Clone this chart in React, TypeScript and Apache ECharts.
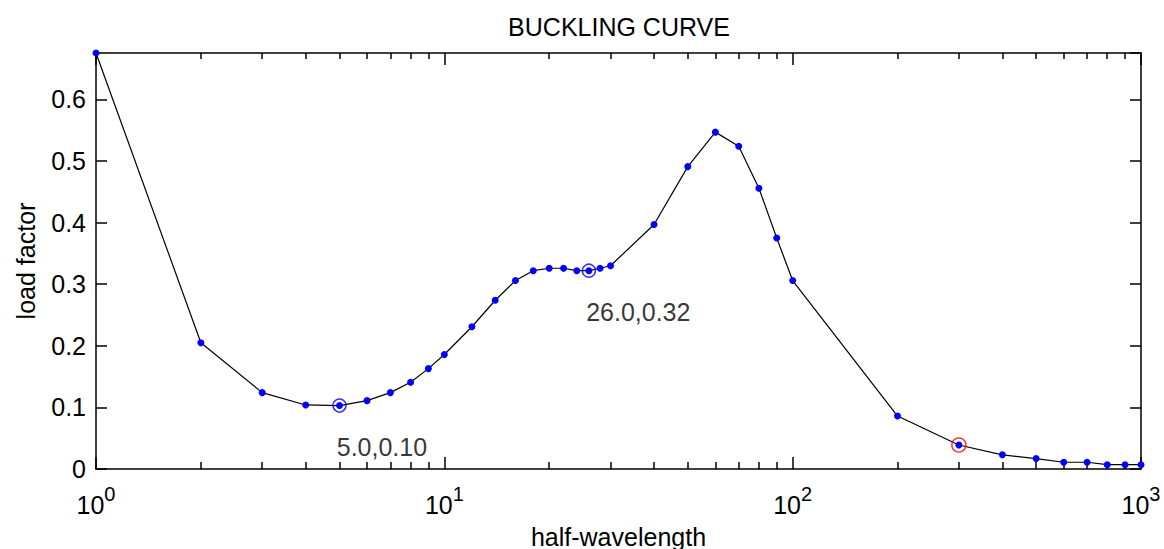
import React, { useEffect, useRef } from "react";
import * as echarts from "echarts";

const chartTitle = "BUCKLING CURVE";
const xAxisName = "half-wavelength";
const yAxisName = "load factor";

const halfWavelength = [
  1, 2, 3, 4, 5, 6, 7, 8, 9, 10, 12, 14, 16, 18, 20, 22, 24, 26, 28, 30, 40, 50,
  60, 70, 80, 90, 100, 200, 300, 400, 500, 600, 700, 800, 900, 1000,
];
const loadFactor = [
  0.6755, 0.205, 0.124, 0.104, 0.103, 0.111, 0.124, 0.141, 0.163, 0.186, 0.231,
  0.274, 0.306, 0.322, 0.326, 0.326, 0.322, 0.322, 0.326, 0.33, 0.397, 0.491,
  0.547, 0.524, 0.456, 0.375, 0.306, 0.086, 0.039, 0.023, 0.017, 0.011, 0.011,
  0.007, 0.007, 0.007,
];

// circled local minima (annotated)
const minimaX = [5, 26];
const minimaY = [0.103, 0.322];
// selected point (red circle)
const selectedX = [300];
const selectedY = [0.039];

const xMajorTicks = [1, 10, 100, 1000];
const xMinorTicks = [2, 3, 4, 5, 6, 7, 8, 9, 20, 30, 40, 50, 60, 70, 80, 90, 200, 300, 400, 500, 600, 700, 800, 900];
const yMin = 0;
const yMax = 0.6755;
const yStep = 0.1;

export default function App() {
  const ref = useRef<HTMLDivElement>(null);

  useEffect(() => {
    document.body.style.margin = "0";
    const chart = echarts.init(ref.current!, null, { renderer: "svg" });
    const font = "'Liberation Sans', Arial, sans-serif";
    const txt = "#000";
    const axisLine = { show: true, lineStyle: { color: "#000", width: 1.5 } };
    const tickStyle = { color: "#000", width: 1.5 };
    const xBase = { type: "log", logBase: 10, min: 1, max: 1000, splitLine: { show: false } };

    chart.setOption({
      animation: false,
      title: {
        text: chartTitle,
        left: 614,
        top: 9,
        textAlign: "center",
        textStyle: { fontFamily: font, fontSize: 25, fontWeight: "normal", color: txt },
      },
      grid: { left: 96, right: 23, top: 53, bottom: 80, containLabel: false, outerBoundsMode: "none" },
      xAxis: [
        {
          ...xBase,
          position: "bottom",
          name: xAxisName,
          nameLocation: "middle",
          nameGap: 55,
          nameTextStyle: { fontFamily: font, fontSize: 25, color: txt },
          axisLine,
          axisTick: { show: true, inside: true, length: 12, customValues: xMajorTicks, lineStyle: tickStyle },
          axisLabel: {
            customValues: xMajorTicks,
            margin: 15,
            formatter: (v: number) => `{b|10}{s|${Math.round(Math.log10(v))}}`,
            rich: {
              b: { fontFamily: font, fontSize: 25, color: txt },
              s: { fontFamily: font, fontSize: 20, color: txt, padding: [0, 0, 22, 0] },
            },
          },
        },
        {
          ...xBase,
          position: "bottom",
          axisLine: { show: false },
          axisTick: { show: true, inside: true, length: 7, customValues: xMinorTicks, lineStyle: tickStyle },
          axisLabel: { show: false },
        },
        {
          ...xBase,
          position: "top",
          axisLine,
          axisTick: { show: true, inside: true, length: 12, customValues: xMajorTicks, lineStyle: tickStyle },
          axisLabel: { show: false },
        },
        {
          ...xBase,
          position: "top",
          axisLine: { show: false },
          axisTick: { show: true, inside: true, length: 6, customValues: xMinorTicks, lineStyle: tickStyle },
          axisLabel: { show: false },
        },
      ],
      yAxis: [
        {
          type: "value",
          min: yMin,
          max: yMax,
          interval: yStep,
          position: "left",
          name: yAxisName,
          nameLocation: "middle",
          nameGap: 58,
          nameRotate: 90,
          nameTextStyle: { fontFamily: font, fontSize: 25, color: txt },
          axisLine,
          axisTick: { show: true, inside: true, length: 11, lineStyle: tickStyle },
          axisLabel: { showMaxLabel: false, margin: 10, fontFamily: font, fontSize: 25, color: txt },
          splitLine: { show: false },
        },
        {
          type: "value",
          min: yMin,
          max: yMax,
          interval: yStep,
          position: "right",
          axisLine,
          axisTick: { show: true, inside: true, length: 11, lineStyle: tickStyle },
          axisLabel: { show: false },
          splitLine: { show: false },
        },
      ],
      series: [
        {
          type: "line",
          xAxisIndex: 0,
          yAxisIndex: 0,
          data: halfWavelength.map((x, i) => [x, loadFactor[i]]),
          symbol: "circle",
          symbolSize: 7,
          itemStyle: { color: "#0000ff" },
          lineStyle: { color: "#000", width: 1.2 },
          z: 2,
        },
        {
          type: "scatter",
          xAxisIndex: 0,
          yAxisIndex: 0,
          data: minimaX.map((x, i) => [x, minimaY[i]]),
          symbol: "circle",
          symbolSize: 13,
          itemStyle: { color: "rgba(0,0,0,0)", borderColor: "#0000ff", borderWidth: 1.5 },
          label: {
            show: true,
            position: [4.5, 48.5],
            align: "left",
            verticalAlign: "middle",
            formatter: (p: any) => `${p.value[0].toFixed(1)},${p.value[1].toFixed(2)}`,
            fontFamily: font,
            fontSize: 25,
            color: txt,
          },
          z: 3,
        },
        {
          type: "scatter",
          xAxisIndex: 0,
          yAxisIndex: 0,
          data: selectedX.map((x, i) => [x, selectedY[i]]),
          symbol: "circle",
          symbolSize: 14,
          itemStyle: { color: "rgba(0,0,0,0)", borderColor: "#ff0000", borderWidth: 1.5 },
          z: 3,
        },
      ],
    });
    return () => chart.dispose();
  }, []);

  return <div ref={ref} style={{ width: 1164, height: 549 }} />;
}
